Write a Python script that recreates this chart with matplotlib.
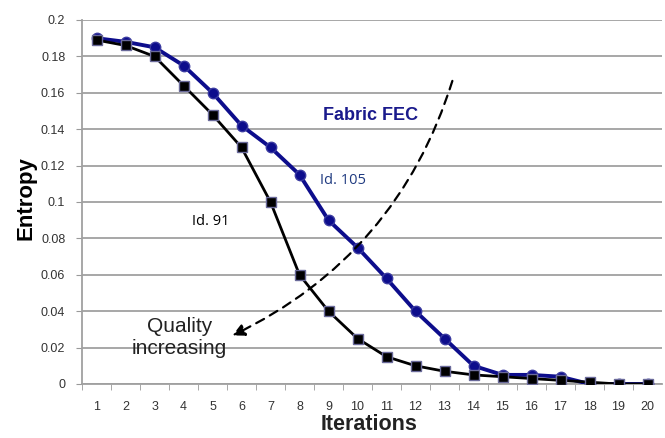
import matplotlib
matplotlib.use("Agg")
import matplotlib.pyplot as plt
import numpy as np

iterations = list(range(1, 21))
fec_105 = [0.190, 0.188, 0.185, 0.175, 0.160, 0.142, 0.130, 0.115, 0.090, 0.075,
           0.058, 0.040, 0.025, 0.010, 0.005, 0.005, 0.004, 0.000, 0.000, 0.000]
fec_91 = [0.189, 0.186, 0.180, 0.164, 0.148, 0.130, 0.100, 0.060, 0.040, 0.025,
          0.015, 0.010, 0.007, 0.005, 0.004, 0.003, 0.002, 0.001, 0.000, 0.000]
y_ticks = [0, 0.02, 0.04, 0.06, 0.08, 0.1, 0.12, 0.14, 0.16, 0.18, 0.2]
y_tick_labels = ["0", "0.02", "0.04", "0.06", "0.08", "0.1", "0.12", "0.14", "0.16", "0.18", "0.2"]

plt.rcParams['font.family'] = ['Liberation Sans', 'DejaVu Sans']

fig = plt.figure(figsize=(6.65, 4.38), dpi=100)
ax = fig.add_axes([82/665, 1-384/438, 580/665, 364/438])

ax.set_xlim(0.5, 20.5)
ax.set_ylim(0, 0.2)

ax.set_yticks(y_ticks)
ax.set_yticklabels(y_tick_labels, fontsize=9, color='#333333')
ax.set_xticks(iterations)
ax.set_xticklabels([str(i) for i in iterations], fontsize=9, color='#333333')
ax.set_xticks([i + 0.5 for i in iterations[:-1]] + [0.5], minor=True)
ax.tick_params(axis='x', which='major', length=0, pad=12)
ax.tick_params(axis='x', which='minor', length=4, color='#999999')
ax.tick_params(axis='y', which='major', length=4, color='#999999', pad=8)

ax.grid(axis='y', color='#a0a0a0', linewidth=1.3)
ax.set_axisbelow(True)
for s in ['top', 'right']:
    ax.spines[s].set_visible(False)
for s in ['left', 'bottom']:
    ax.spines[s].set_color('#a0a0a0')
    ax.spines[s].set_linewidth(1.3)

ax.plot(iterations, fec_105, color='#0d0d8c', linewidth=2.8, marker='o',
        markersize=7.5, markerfacecolor='#0d0d8c', markeredgecolor='#3a3aa0', zorder=3)
ax.plot(iterations, fec_91, color='black', linewidth=2.0, marker='s',
        markersize=6.5, markerfacecolor='black', markeredgecolor='#6a6a9a', zorder=4)

ax.annotate('', xy=(5.6, 0.026), xytext=(13.3, 0.168),
            arrowprops=dict(arrowstyle='-|>', linestyle=(0, (4, 3)), color='black',
                            linewidth=1.6, mutation_scale=18,
                            connectionstyle='arc3,rad=-0.22'))

ax.text(8.8, 0.1477, 'Fabric FEC', fontsize=13, fontweight='bold', color='#1a1a8c',
        ha='left', va='center')
ax.text(8.7, 0.112, 'Id. 105', fontsize=10.5, color='#1f3a80', ha='left', va='center',
        family=['Open Sans', 'DejaVu Sans'])
ax.text(4.3, 0.0895, 'Id. 91', fontsize=10.5, color='black', ha='left', va='center',
        family=['Open Sans', 'DejaVu Sans'])
ax.text(3.85, 0.0255, 'Quality\nincreasing', fontsize=15, color='#222222', ha='center',
        va='center', linespacing=1.2)

fig.text(26/665, 1-198/438, 'Entropy', rotation=90, fontsize=16, fontweight='bold',
         ha='center', va='center')
fig.text(369/665, 1-424/438, 'Iterations', fontsize=15.5, fontweight='bold',
         ha='center', va='center', color='#222222')

fig.savefig('out.png', dpi=100)
